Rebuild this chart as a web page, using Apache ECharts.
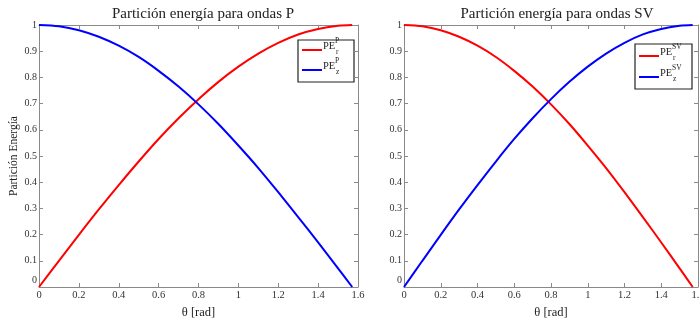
<!DOCTYPE html>
<html>
<head>
<meta charset="utf-8">
<script src="https://cdn.jsdelivr.net/npm/echarts@6/dist/echarts.min.js"></script>
<style>
  html, body { margin: 0; padding: 0; background: #fff; }
  #chart { width: 699px; height: 320px; }
</style>
</head>
<body>
<div id="chart"></div>
<script>
// Incidence angle samples (rad)
const theta = [0, 0.1, 0.2, 0.3, 0.4, 0.5, 0.6, 0.7, 0.8, 0.9, 1.0, 1.1, 1.2, 1.3, 1.4, 1.5, 1.571];

// P waves: radial and vertical energy partition
const pe_r_P = [0, 0.100, 0.199, 0.296, 0.389, 0.479, 0.565, 0.644, 0.717, 0.783, 0.841, 0.891, 0.932, 0.964, 0.985, 0.997, 1];
const pe_z_P = [1, 0.995, 0.980, 0.955, 0.921, 0.878, 0.825, 0.765, 0.697, 0.622, 0.540, 0.454, 0.362, 0.267, 0.170, 0.071, 0];

// SV waves: radial and vertical energy partition
const pe_r_SV = [1, 0.995, 0.980, 0.955, 0.921, 0.878, 0.825, 0.765, 0.697, 0.622, 0.540, 0.454, 0.362, 0.267, 0.170, 0.071, 0];
const pe_z_SV = [0, 0.100, 0.199, 0.296, 0.389, 0.479, 0.565, 0.644, 0.717, 0.783, 0.841, 0.891, 0.932, 0.964, 0.985, 0.997, 1];

const xTicks = { min: 0, max: 1.6, interval: 0.2 };
const yTicks = { min: 0, max: 1, interval: 0.1 };

const FONT = '"Liberation Serif", "DejaVu Serif", serif';
const AXIS_GRAY = '#8a8a8a';
const RED = '#ff0000';
const BLUE = '#0000ff';

const pairs = (xs, ys) => xs.map((x, i) => [x, ys[i]]);

function xAxisPair(gridIndex, showName) {
  const base = {
    type: 'value', gridIndex, min: xTicks.min, max: xTicks.max, interval: xTicks.interval,
    splitLine: { show: false },
    axisLine: { show: true, onZero: false, lineStyle: { color: AXIS_GRAY, width: 1 } },
    axisTick: { show: true, inside: true, length: 4, lineStyle: { color: AXIS_GRAY } }
  };
  return [
    Object.assign({}, base, {
      position: 'bottom',
      name: showName ? 'θ [rad]' : '',
      nameLocation: 'middle', nameGap: 18,
      nameTextStyle: { fontFamily: FONT, fontSize: 12.5, color: '#222' },
      axisLabel: { fontFamily: FONT, fontSize: 10.5, color: '#333', margin: 3,
                   formatter: v => String(+v.toFixed(1)) }
    }),
    Object.assign({}, base, { position: 'top', axisLabel: { show: false } })
  ];
}

function yAxisPair(gridIndex, name) {
  const base = {
    type: 'value', gridIndex, min: yTicks.min, max: yTicks.max, interval: yTicks.interval,
    splitLine: { show: false },
    axisLine: { show: true, onZero: false, lineStyle: { color: AXIS_GRAY, width: 1 } },
    axisTick: { show: true, inside: true, length: 4, lineStyle: { color: AXIS_GRAY } }
  };
  return [
    Object.assign({}, base, {
      position: 'left',
      name: name, nameLocation: 'middle', nameGap: 19, nameMoveOverlap: false,
      nameTextStyle: { fontFamily: FONT, fontSize: 11.5, color: '#222' },
      axisLabel: {
        fontFamily: FONT, fontSize: 10, color: '#333', margin: 2,
        formatter: v => (v === 0 ? '{z|0}' : String(+v.toFixed(1))),
        rich: { z: { fontFamily: FONT, fontSize: 10, color: '#333', padding: [0, 0, 14, 0] } }
      }
    }),
    Object.assign({}, base, { position: 'right', axisLabel: { show: false } })
  ];
}

const xs = [...xAxisPair(0, true), ...xAxisPair(1, true)];
const ys = [...yAxisPair(0, 'Partición Energía'), ...yAxisPair(1, '')];

function lineSeries(name, data, color, axisIdx) {
  return {
    name, type: 'line', data, xAxisIndex: axisIdx, yAxisIndex: axisIdx,
    smooth: 0.3, showSymbol: false, symbol: 'none',
    lineStyle: { color, width: 2 }, itemStyle: { color },
    animation: false, z: 3
  };
}

// Legend boxes with stacked super/subscripts
function legendBox(x, y, w, h, sup, rows) {
  const children = [{
    type: 'rect', shape: { x, y, width: w, height: h },
    style: { fill: '#fff', stroke: '#222', lineWidth: 1.2 }
  }];
  rows.forEach(r => {
    children.push({ type: 'line', shape: { x1: x + 4, y1: r.ly, x2: x + 24, y2: r.ly },
                    style: { stroke: r.color, lineWidth: 2 } });
    children.push({ type: 'text', x: x + 25, y: r.ly - 4,
                    style: { text: 'PE', font: '10.5px ' + FONT, fill: '#222', verticalAlign: 'middle' } });
    children.push({ type: 'text', x: x + 37, y: r.ly - 9,
                    style: { text: sup, font: '7.5px ' + FONT, fill: '#222', verticalAlign: 'middle' } });
    children.push({ type: 'text', x: x + 38, y: r.ly + 2,
                    style: { text: r.sub, font: '7.5px ' + FONT, fill: '#222', verticalAlign: 'middle' } });
  });
  return { type: 'group', z: 10, children };
}

const chart = echarts.init(document.getElementById('chart'), null, { renderer: 'canvas' });
chart.setOption({
  animation: false,
  backgroundColor: '#fff',
  title: [
    { text: 'Partición energía para ondas P', left: 198, top: 2, textAlign: 'center',
      textStyle: { fontFamily: FONT, fontSize: 15, fontWeight: 'normal', color: '#222' } },
    { text: 'Partición energía para ondas SV', left: 552, top: 2, textAlign: 'center',
      textStyle: { fontFamily: FONT, fontSize: 15, fontWeight: 'normal', color: '#222' } }
  ],
  grid: [
    { left: 39, right: 341, top: 25, bottom: 33, outerBoundsMode: 'none', containLabel: false },
    { left: 404, right: 1, top: 25, bottom: 33, outerBoundsMode: 'none', containLabel: false }
  ],
  xAxis: xs,
  yAxis: ys,
  series: [
    lineSeries('PE_r^P', pairs(theta, pe_r_P), RED, 0),
    lineSeries('PE_z^P', pairs(theta, pe_z_P), BLUE, 0),
    lineSeries('PE_r^SV', pairs(theta, pe_r_SV), RED, 2),
    lineSeries('PE_z^SV', pairs(theta, pe_z_SV), BLUE, 2)
  ],
  graphic: [
    legendBox(298, 40, 56, 42, 'P', [
      { ly: 50, color: RED, sub: 'r' },
      { ly: 70, color: BLUE, sub: 'z' }
    ]),
    legendBox(635, 44, 57, 45, 'SV', [
      { ly: 56, color: RED, sub: 'r' },
      { ly: 77, color: BLUE, sub: 'z' }
    ])
  ]
});
</script>
</body>
</html>
